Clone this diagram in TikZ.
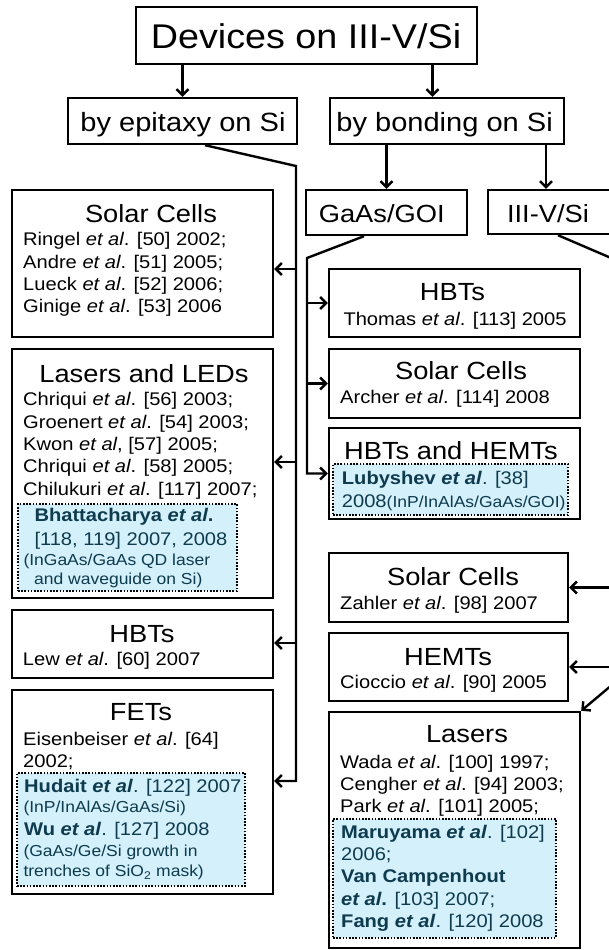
\documentclass[tikz,border=0pt]{standalone}
\usepackage{fontspec}
\setmainfont[FakeStretch=1.1]{Liberation Sans}
\usetikzlibrary{arrows.meta,calc}
\definecolor{bluefill}{HTML}{D3F0FB}
\definecolor{bluetext}{HTML}{0E3B4E}
\newcommand\fTop{\fontsize{34.3}{40}\selectfont}
\newcommand\fLev{\fontsize{26.4}{30}\selectfont}
\newcommand\fTitle{\fontsize{24.8}{28}\selectfont}
\newcommand\fBody{\fontsize{18.3}{22}\selectfont}
\newcommand\fSmall{\fontsize{15.9}{19}\selectfont}
\newcommand\etal{\textit{et al}}
\begin{document}
\begin{tikzpicture}[x=1pt,y=-1pt,
  box/.style={draw, line width=2.4pt, fill=white, inner sep=0pt, rectangle},
  bluebox/.style={draw, line width=1.6pt, dash pattern=on 1.6pt off 1.6pt, fill=bluefill, inner sep=0pt, rectangle},
  conn/.style={line width=2.4pt},
  arr/.style={conn, -{Straight Barb[length=6pt,width=12pt]}},
  txt/.style={inner sep=0pt, anchor=base west, font=\fBody},
  btxt/.style={txt, text=bluetext},
  stxt/.style={txt, text=bluetext, font=\fSmall},
  ttl/.style={inner sep=0pt, anchor=base, font=\fTitle}]
\useasboundingbox (0,0) rectangle (609,950);
\clip (0,0) rectangle (609,950);
\fill[white] (0,0) rectangle (609,950);

% main boxes
\node[box, minimum width=341pt, minimum height=57pt] (top) at (306.5,35.5) {};
\node[box, minimum width=229pt, minimum height=46pt] (epi) at (182.5,121) {};
\node[box, minimum width=234pt, minimum height=46pt] (bond) at (447,121) {};
\node[box, minimum width=161pt, minimum height=45pt] (gaas) at (386.5,212.5) {};
\node[box, minimum width=123pt, minimum height=44pt] (iiiv) at (549.5,212) {};

% left boxes
\node[box, minimum width=261pt, minimum height=147pt] (lsolar) at (142.5,263.5) {};
\node[box, minimum width=261pt, minimum height=249pt] (llasers) at (142.5,473.5) {};
\node[box, minimum width=261pt, minimum height=68pt] (lhbt) at (142.5,644) {};
\node[box, minimum width=261pt, minimum height=204pt] (lfet) at (142.5,792) {};

% right boxes
\node[box, minimum width=251pt, minimum height=68pt] (rhbt) at (454.5,303) {};
\node[box, minimum width=251pt, minimum height=69pt] (rsolar1) at (454.5,383.5) {};
\node[box, minimum width=251pt, minimum height=91pt] (rhh) at (454.5,473.5) {};
\node[box, minimum width=239pt, minimum height=69pt] (rsolar2) at (448.5,587.5) {};
\node[box, minimum width=239pt, minimum height=68pt] (rhemt) at (448.5,667) {};
\node[box, minimum width=251pt, minimum height=236pt] (rlaser) at (454.5,830) {};

% blue highlight boxes
\node[bluebox, minimum width=219pt, minimum height=87pt] (bl1) at (127.5,547.5) {};
\node[bluebox, minimum width=228pt, minimum height=113pt] (bl2) at (131,829.5) {};
\node[bluebox, minimum width=235pt, minimum height=51pt] (bl3) at (450.5,489.5) {};
\node[bluebox, minimum width=223pt, minimum height=119pt] (bl4) at (444.5,878.5) {};

% connectors: top level
\draw[arr] (top.south -| epi.north) -- (epi.north);
\draw[arr] ($(top.south -| bond.north)+(-14.5,0)$) -- ($(bond.north)+(-14.5,0)$);
\draw[arr] (bond.south -| gaas.north) -- (gaas.north);
\draw[arr] ($(bond.south -| iiiv.north)+(-3.5,0)$) -- ($(iiiv.north)+(-3.5,0)$);

% epitaxy trunk
\coordinate (et) at (296,166);
\coordinate (etb) at (296,781);
\coordinate (la1) at ($(lsolar.east)+(0,5.5)$);
\coordinate (la2) at ($(llasers.east)+(0,-11.5)$);
\coordinate (la3) at ($(lhbt.east)+(0,-1)$);
\draw[arr] ($(epi.south)+(22.5,0)$) -- (et) -- (etb) -- (etb -| lfet.east);
\draw[arr] (et |- la1) -- (la1);
\draw[arr] (et |- la2) -- (la2);
\draw[arr] (et |- la3) -- (la3);

% GaAs/GOI trunk
\coordinate (gt) at (307,258);
\draw[arr] ($(gaas.south)+(-22.5,0)$) -- (gt) -- (gt |- rhh.west) -- (rhh.west);
\draw[arr] (gt |- rhbt.west) -- (rhbt.west);
\draw[arr] (gt |- rsolar1.west) -- (rsolar1.west);

% III-V/Si trunk
\coordinate (it) at (625,264);
\coordinate (itb) at (625,674);
\draw[arr] ($(iiiv.south)+(8.5,0)$) -- (it) -- (itb) -- (rlaser.north east);
\draw[arr] (it |- rsolar2.east) -- (rsolar2.east);
\draw[arr] (it |- rhemt.east) -- (rhemt.east);

% texts: top levels
\node[inner sep=0pt, anchor=base, font=\fTop] (ttop) at (306,48.3) {Devices on III-V/Si};
\node[inner sep=0pt, anchor=base, font=\fLev] (tepi) at (183,131) {by epitaxy on Si};
\node[inner sep=0pt, anchor=base, font=\fLev] (tbond) at (444.6,131) {by bonding on Si};
\node[ttl] (tgaas) at (381.7,222) {GaAs/GOI};
\node[ttl] (tiiiv) at (548,222) {III-V/Si};

% left solar
\node[ttl] (tls) at (151,222) {Solar Cells};
\node[txt] (ls1) at (23,245.7) {Ringel \etal. [50] 2002;};
\node[txt] (ls2) at (23,268) {Andre \etal. [51] 2005;};
\node[txt] (ls3) at (23,290.3) {Lueck \etal. [52] 2006;};
\node[txt] (ls4) at (23,312.6) {Ginige \etal. [53] 2006};

% left lasers
\node[ttl] (tll) at (144,382) {Lasers and LEDs};
\node[txt] (ll1) at (23,405.5) {Chriqui \etal. [56] 2003;};
\node[txt] (ll2) at (23,428) {Groenert \etal. [54] 2003;};
\node[txt] (ll3) at (23,450.5) {Kwon \etal, [57] 2005;};
\node[txt] (ll4) at (23,472.7) {Chriqui \etal. [58] 2005;};
\node[txt] (ll5) at (23,495) {Chilukuri \etal. [117] 2007;};
\node[btxt] (ll6) at (34.3,521.7) {\textbf{Bhattacharya \textit{et al}.}};
\node[btxt] (ll7) at (34.3,545) {[118, 119] 2007, 2008};
\node[stxt] (ll8) at (23.3,565.7) {(InGaAs/GaAs QD laser};
\node[stxt] (ll9) at (34,584) {and waveguide on Si)};

% left HBTs
\node[ttl] (tlh) at (142,642) {HBTs};
\node[txt] (lh1) at (22.7,665) {Lew \etal. [60] 2007};

% left FETs
\node[ttl] (tlf) at (141,720.7) {FETs};
\node[txt] (lf1) at (23,745) {Eisenbeiser \etal. [64]};
\node[txt] (lf2) at (23,767.3) {2002;};
\node[btxt] (lf3) at (24,792.7) {\textbf{Hudait \textit{et al}}. [122] 2007};
\node[stxt] (lf4) at (23.3,812.7) {(InP/InAlAs/GaAs/Si)};
\node[btxt] (lf5) at (24,835.7) {\textbf{Wu \textit{et al}}. [127] 2008};
\node[stxt] (lf6) at (23.3,856.7) {(GaAs/Ge/Si growth in};
\node[stxt] (lf7) at (23.3,876.7) {trenches of SiO\textsubscript{2} mask)};

% right upper
\node[ttl] (trh) at (452.5,300) {HBTs};
\node[txt] (rh1) at (343.3,325) {Thomas \etal. [113] 2005};
\node[ttl] (trs1) at (461,379) {Solar Cells};
\node[txt] (rs1) at (340,403.3) {Archer \etal. [114] 2008};
\node[ttl] (trhh) at (451,459) {HBTs and HEMTs};
\node[btxt] (rhh1) at (341.7,484) {\textbf{Lubyshev \textit{et al}}. [38]};
\node[btxt] (rhh2) at (341.7,507.3) {2008{\fSmall(InP/InAlAs/GaAs/GOI)}};

% right lower
\node[ttl] (trs2) at (453,585) {Solar Cells};
\node[txt] (rs2) at (340,609.3) {Zahler \etal. [98] 2007};
\node[ttl] (trhe) at (448,665) {HEMTs};
\node[txt] (rhe1) at (340,688.3) {Cioccio \etal. [90] 2005};
\node[ttl] (trl) at (467,742) {Lasers};
\node[txt] (rl1) at (340,768.3) {Wada \etal. [100] 1997;};
\node[txt] (rl2) at (340,790.7) {Cengher \etal. [94] 2003;};
\node[txt] (rl3) at (340,812.7) {Park \etal. [101] 2005;};
\node[btxt] (rl4) at (341,838.3) {\textbf{Maruyama \textit{et al}}. [102]};
\node[btxt] (rl5) at (341,860.7) {2006;};
\node[btxt] (rl6) at (341,882.7) {\textbf{Van Campenhout}};
\node[btxt] (rl7) at (341,905) {\textbf{\textit{et al}.} [103] 2007;};
\node[btxt] (rl8) at (341,927.3) {\textbf{Fang \textit{et al}}. [120] 2008};
\end{tikzpicture}
\end{document}
